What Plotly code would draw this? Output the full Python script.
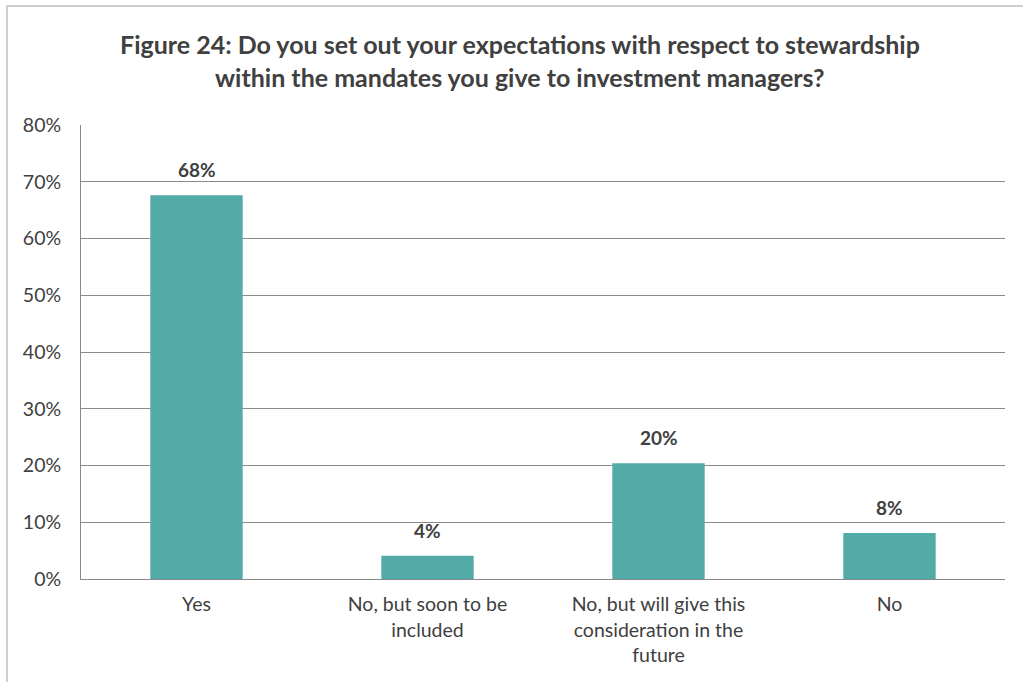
import plotly.graph_objects as go

# Survey responses (share of respondents)
categories = [
    "Yes",
    "No, but soon to be<br>included",
    "No, but will give this<br>consideration in the<br>future",
    "No",
]
shares = [67.6, 4.1, 20.4, 8.1]

title_lines = [
    "Figure 24: Do you set out your expectations with respect to stewardship",
    "within the mandates you give to investment managers?",
]

y_ticks = [0, 10, 20, 30, 40, 50, 60, 70, 80]
y_tick_text = [f"{v}%" for v in y_ticks]

FONT = "Lato, Calibri, Carlito, sans-serif"
TEXT = "#404040"
GRID = "#8a8a8a"
BAR = "#53aba8"

fig = go.Figure(
    go.Bar(
        x=categories,
        y=shares,
        marker=dict(color=BAR, line=dict(width=0)),
        hoverinfo="skip",
    )
)

# Value labels above each bar
for cat, val in zip(categories, shares):
    fig.add_annotation(
        x=cat,
        y=val,
        text=f"<b>{val:.0f}%</b>",
        showarrow=False,
        xanchor="center",
        yanchor="bottom",
        yshift=12,
        font=dict(family=FONT, size=19, color=TEXT),
    )

fig.update_layout(
    width=1023,
    height=682,
    margin=dict(l=81, r=18, t=125, b=103),
    paper_bgcolor="white",
    plot_bgcolor="white",
    bargap=0.6,
    showlegend=False,
    font=dict(family=FONT, size=19, color=TEXT),
)

fig.update_xaxes(
    showgrid=False,
    showline=True,
    linecolor=GRID,
    linewidth=1,
    ticks="",
    tickfont=dict(family=FONT, size=19.5, color=TEXT),
    ticklabelstandoff=8,
)

fig.update_yaxes(
    range=[0, 80],
    tickvals=y_ticks,
    ticktext=y_tick_text,
    showgrid=True,
    gridcolor=GRID,
    gridwidth=1,
    showline=True,
    linecolor=GRID,
    linewidth=1,
    zeroline=False,
    ticks="",
    tickfont=dict(family=FONT, size=19.5, color=TEXT),
    ticklabelstandoff=15,
)

# Two-line bold title
for i, line in enumerate(title_lines):
    fig.add_annotation(
        text=f"<b>{line}</b>",
        xref="paper",
        yref="paper",
        x=0.475,
        y=1.0 + (125 - 44 - i * 33) / 454,
        xanchor="center",
        yanchor="middle",
        showarrow=False,
        font=dict(family=FONT, size=25, color=TEXT),
    )

# Outer chart frame
fig.add_shape(
    type="rect",
    xref="paper",
    yref="paper",
    x0=(7 - 81) / 924,
    x1=1.1,
    y0=-0.4,
    y1=1.0 + (125 - 6) / 454,
    line=dict(color="#bfbfbf", width=1.5),
    fillcolor="rgba(0,0,0,0)",
    layer="below",
)

fig.write_html("out.html")
